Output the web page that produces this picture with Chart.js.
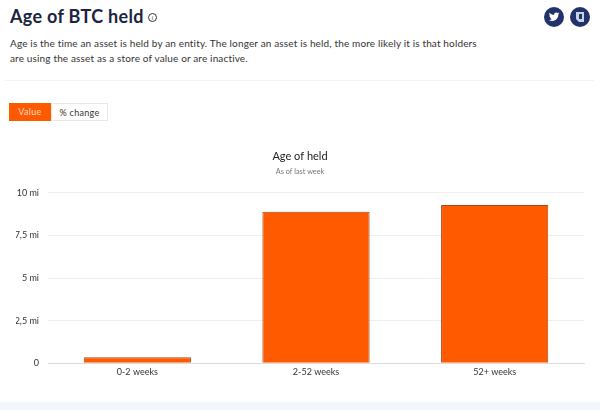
<!DOCTYPE html>
<html>
<head>
<meta charset="utf-8">
<script src="https://cdn.jsdelivr.net/npm/chart.js@4"></script>
<style>
  html, body { margin: 0; padding: 0; background: #fff; width: 600px; height: 410px; overflow: hidden; font-family: Lato, sans-serif; }
  .abs { position: absolute; }
  h1 { left: 10px; top: 3px; margin: 0; font-size: 18px; line-height: 26px; font-weight: 700; color: #1b2440; letter-spacing: 0.3px; }
  .info { left: 148px; top: 13px; width: 7px; height: 7px; border: 1px solid #333; border-radius: 50%; font-size: 6px; line-height: 7px; text-align: center; color: #333; }
  .desc { left: 10px; top: 36px; margin: 0; font-size: 10px; line-height: 15px; color: #333; letter-spacing: 0.15px; white-space: nowrap; }
  .rule { left: 4px; top: 80px; width: 590px; height: 1px; background: #f3f3f3; }
  .btn { top: 103px; height: 18px; line-height: 18px; font-size: 9px; text-align: center; box-sizing: border-box; letter-spacing: 0.3px; }
  .on { left: 9px; width: 42px; background: #ff5a00; color: #ffd9c4; }
  .off { left: 51px; width: 57px; border: 1px solid #e8e8e8; color: #333; line-height: 17px; }
  .icon { top: 7px; width: 20px; height: 20px; border-radius: 50%; background: #22336b; }
  .footer { left: 0; top: 402px; width: 600px; height: 8px; background: #f3f6fd; }
  #wrap { left: 0; top: 140px; width: 600px; height: 260px; }
</style>
</head>
<body>
<h1 class="abs">Age of BTC held</h1>
<div class="abs info">i</div>
<p class="abs desc">Age is the time an asset is held by an entity. The longer an asset is held, the more likely it is that holders<br>are using the asset as a store of value or are inactive.</p>
<div class="abs rule"></div>
<div class="abs btn on">Value</div>
<div class="abs btn off">% change</div>
<div class="abs icon" style="left:544px">
  <svg width="20" height="20" viewBox="0 0 20 20"><path fill="#fff" d="M15.5 6.4c-.4.2-.8.3-1.300.4.500-.3.800-.7 1-1.200-.4.300-.9.400-1.400.5-.4-.4-1-.7-1.600-.7-1.400 0-2.400 1.300-2.100 2.600-1.800-.1-3.400-1-4.500-2.300-.6 1-.3 2.300.7 2.900-.4 0-.7-.1-1-.3 0 1 .7 2 1.700 2.200-.3.100-.7.100-1 0 .3.900 1.100 1.500 2 1.500-.9.700-2 1-3.100.9 1 .6 2.100 1 3.300 1 4 0 6.300-3.400 6.100-6.400.4-.3.800-.7 1.200-1.100z"/></svg>
</div>
<div class="abs icon" style="left:570px">
  <svg width="20" height="20" viewBox="0 0 20 20"><path fill="#c9d2e4" d="M6 5h8v10H9l-3-3z"/><path fill="#22336b" d="M9 7h3v5H9z"/></svg>
</div>
<div class="abs" id="wrap"><canvas id="chart" width="600" height="260"></canvas></div>
<div class="abs footer"></div>

<script>
const categories = ["0-2 weeks", "2-52 weeks", "52+ weeks"];
const heldValues = [0.35, 8.9, 9.3];
const tickValues = [0, 2.5, 5, 7.5, 10];
const tickLabels = ["0", "2,5 mi", "5 mi", "7,5 mi", "10 mi"];

new Chart(document.getElementById("chart"), {
  type: "bar",
  data: {
    labels: categories,
    datasets: [{
      label: "Value",
      data: heldValues,
      backgroundColor: "#ff5a00",
      borderColor: "#a84a14",
      borderWidth: 1,
      barPercentage: 0.6,
      categoryPercentage: 1,
    }],
  },
  options: {
    responsive: false,
    animation: false,
    devicePixelRatio: 1,
    // left padding mirrors the right one so the title stays centred on the page
    layout: { padding: { top: 10, right: 16, bottom: 20, left: 16 } },
    plugins: {
      legend: { display: false },
      tooltip: { enabled: false },
      title: {
        display: true,
        text: "Age of held",
        color: "#222",
        font: { family: "Lato", size: 11, weight: "normal" },
        padding: { top: 0, bottom: 4 },
      },
      subtitle: {
        display: true,
        text: "As of last week",
        color: "#777",
        font: { family: "Lato", size: 7.3 },
        padding: { top: 0, bottom: 17 },
      },
    },
    scales: {
      x: {
        grid: { display: false, drawTicks: false },
        border: { color: "#dcdcdc" },
        ticks: { color: "#333", font: { family: "Lato", size: 9 }, padding: 3, maxRotation: 0 },
      },
      y: {
        min: 0,
        max: 10,
        afterBuildTicks: (axis) => { axis.ticks = tickValues.map((value) => ({ value })); },
        afterFit: (axis) => { axis.width = 32; },
        grid: { color: "#efefef", drawTicks: false },
        border: { display: false },
        ticks: {
          color: "#333",
          padding: 9,
          font: { family: "Lato", size: 9 },
          callback: (value) => tickLabels[tickValues.indexOf(value)],
        },
      },
    },
  },
});
</script>
</body>
</html>
